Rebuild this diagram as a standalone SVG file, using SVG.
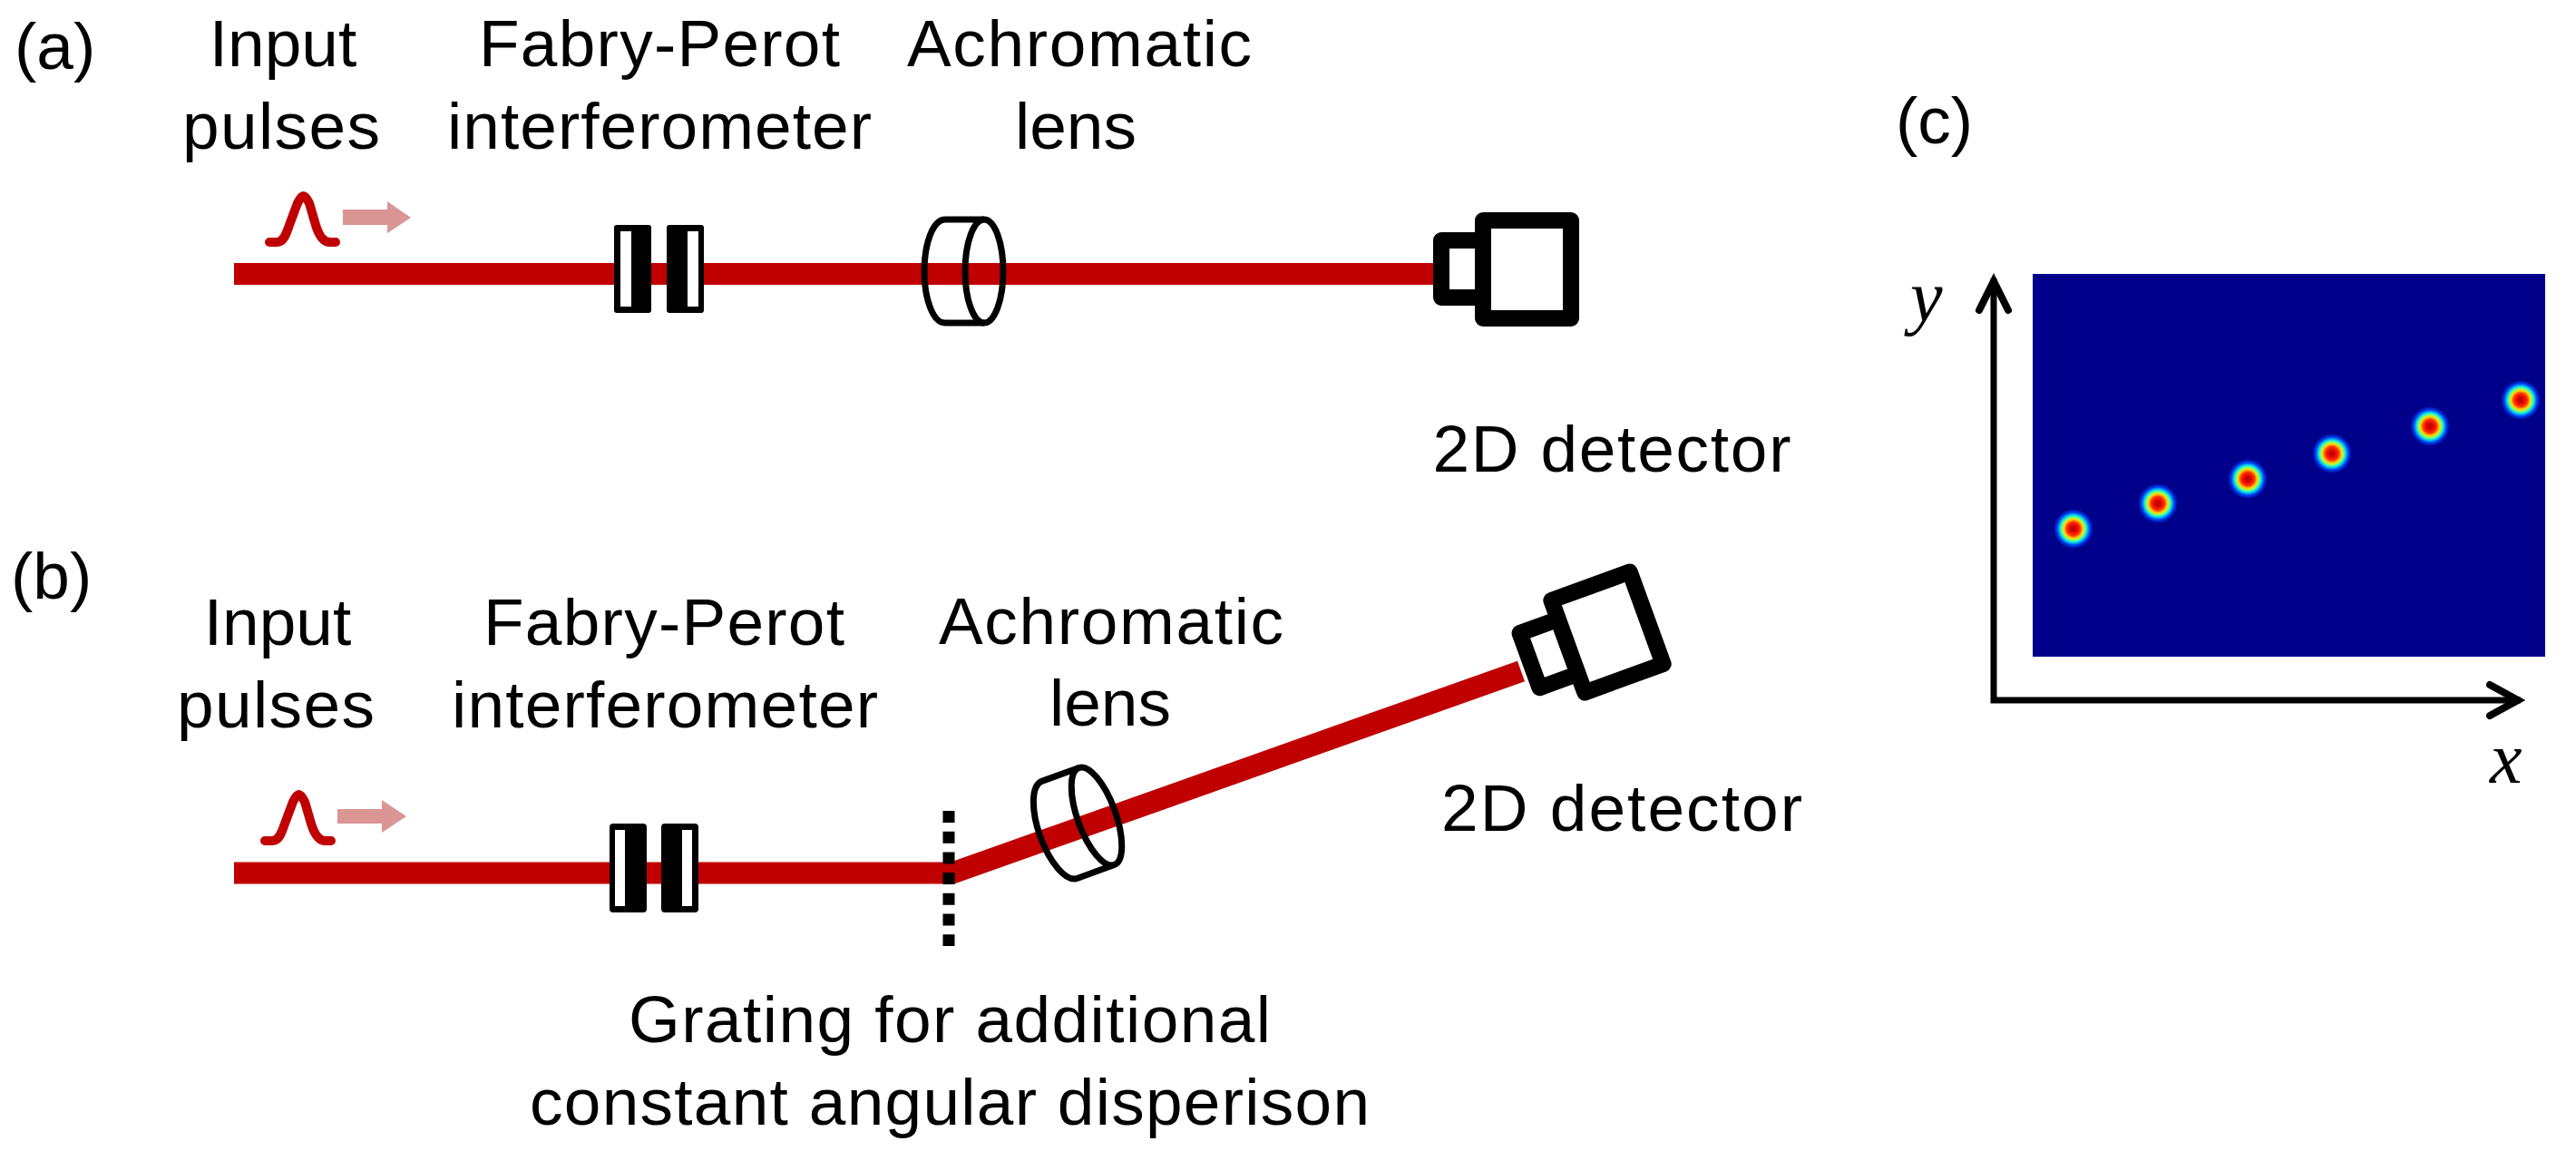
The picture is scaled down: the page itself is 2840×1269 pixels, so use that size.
<svg xmlns="http://www.w3.org/2000/svg" width="2840" height="1269" viewBox="0 0 2840 1269">
<style>
text{font-family:"Liberation Sans",Arial,sans-serif;font-size:73px;fill:#000}
.m{text-anchor:middle}
.i{font-family:"Liberation Serif","Times New Roman",serif;font-style:italic;font-size:80px}
.beam{stroke:#c00000;stroke-width:24;fill:none}
.lens{fill:none;stroke:#000;stroke-width:7;stroke-linejoin:round}
.det{fill:#fff;stroke:#000;stroke-linejoin:round;stroke-width:18}
.blk{fill:#000}.wht{fill:#fff}
.pulse{fill:none;stroke:#c00000;stroke-width:10;stroke-linecap:round;stroke-linejoin:round}
.arr{fill:#d99694}
.ax{fill:none;stroke:#000;stroke-width:7}
.axh{fill:none;stroke:#000;stroke-width:8;stroke-linecap:round;stroke-linejoin:miter}
</style>
<defs>
<radialGradient id="jet">
<stop offset="0" stop-color="#b00000"/>
<stop offset="0.14" stop-color="#d80000"/>
<stop offset="0.34" stop-color="#ff3000"/>
<stop offset="0.47" stop-color="#ffd000"/>
<stop offset="0.57" stop-color="#90ff60"/>
<stop offset="0.68" stop-color="#00e0f0"/>
<stop offset="0.82" stop-color="#0040f0"/>
<stop offset="1" stop-color="#00008b"/>
</radialGradient>
<path id="pulse-shape" class="pulse" d="M292 927H300C308 927 311 917 314 908L323 884Q327 876 329.500 876Q332 876 336 884L343 908C346 918 351 927 359 927H365"/>
</defs>
<g id="connectors">
<path class="beam" d="M258 302H1580"/>
<path class="beam" d="M258 962.500H1050L1677 740"/>
</g>
<g id="label-a"><text x="16" y="76">(a)</text></g>
<g id="pulse-a">
<use href="#pulse-shape" transform="translate(5 -660)"/>
<path class="arr" d="M378 231H427V222L453 240L427 257V248H378Z"/>
</g>
<g id="text-input-a"><text class="m" x="312" y="73">Input</text><text class="m" x="310" y="164" textLength="218" lengthAdjust="spacing">pulses</text></g>
<g id="fp-a">
<rect class="blk" x="677" y="248" width="41" height="97" rx="3"/><rect class="wht" x="684" y="255" width="12" height="83"/>
<rect class="blk" x="735" y="248" width="41" height="97" rx="3"/><rect class="wht" x="758" y="255" width="12" height="83"/>
</g>
<g id="text-fp-a"><text class="m" x="727" y="73" textLength="398" lengthAdjust="spacing">Fabry-Perot</text><text class="m" x="727" y="164" textLength="468" lengthAdjust="spacing">interferometer</text></g>
<g id="lens-a">
<ellipse class="lens" cx="1085" cy="299" rx="21" ry="57"/>
<path class="lens" d="M1085 242H1042C1028 242 1019 270 1019 299C1019 328 1028 356 1042 356H1085"/>
</g>
<g id="text-lens-a"><text class="m" x="1190" y="73" textLength="380" lengthAdjust="spacing">Achromatic</text><text class="m" x="1186" y="164">lens</text></g>
<g id="detector-a">
<rect class="det" x="1589" y="265" width="46" height="63"/>
<rect class="det" x="1635" y="243" width="97" height="108"/>
</g>
<g id="text-det-a"><text class="m" x="1777" y="520" textLength="395" lengthAdjust="spacing">2D detector</text></g>
<g id="label-b"><text x="12" y="660">(b)</text></g>
<g id="pulse-b">
<use href="#pulse-shape"/>
<path class="arr" d="M372 892H421V882L448 900L421 918V908H372Z"/>
</g>
<g id="text-input-b"><text class="m" x="306" y="711">Input</text><text class="m" x="304" y="802" textLength="218" lengthAdjust="spacing">pulses</text></g>
<g id="fp-b">
<rect class="blk" x="672" y="908" width="41" height="98" rx="4"/><rect class="wht" x="678" y="915" width="11" height="84"/>
<rect class="blk" x="729" y="908" width="41" height="98" rx="4"/><rect class="wht" x="752" y="915" width="11" height="84"/>
</g>
<g id="text-fp-b"><text class="m" x="732" y="711" textLength="398" lengthAdjust="spacing">Fabry-Perot</text><text class="m" x="733" y="802" textLength="470" lengthAdjust="spacing">interferometer</text></g>
<g id="grating"><path d="M1046 894V1043" stroke="#000" stroke-width="13" stroke-dasharray="13 9.700" fill="none"/></g>
<g id="lens-b" transform="translate(1209 900) rotate(-20)">
<ellipse class="lens" cx="0" cy="0" rx="21" ry="57"/>
<path class="lens" d="M0 -57H-43C-57 -57 -66 -29 -66 0C-66 29 -57 57 -43 57H0"/>
</g>
<g id="text-lens-b"><text class="m" x="1225" y="710" textLength="380" lengthAdjust="spacing">Achromatic</text><text class="m" x="1224" y="800">lens</text></g>
<g id="detector-b" transform="translate(1772 697) rotate(-20)">
<rect class="det" x="-91" y="-32" width="45" height="64"/>
<rect class="det" x="-46" y="-54" width="92" height="108"/>
</g>
<g id="text-det-b"><text class="m" x="1788" y="916" textLength="398" lengthAdjust="spacing">2D detector</text></g>
<g id="text-grating"><text class="m" x="1047" y="1149" textLength="708" lengthAdjust="spacing">Grating for additional</text><text class="m" x="1047" y="1240" textLength="926" lengthAdjust="spacing">constant angular disperison</text></g>
<g id="label-c"><text x="2090" y="158">(c)</text></g>
<g id="plot">
<rect x="2241" y="302" width="565" height="422" fill="#00008b"/>
<g fill="url(#jet)">
<circle cx="2286" cy="583" r="22"/><circle cx="2379" cy="555" r="22"/><circle cx="2478" cy="528" r="22"/><circle cx="2571" cy="500" r="22"/><circle cx="2679" cy="470" r="22"/><circle cx="2779" cy="441" r="22"/>
</g>
<path class="ax" d="M2198 307V772H2779"/>
<path class="axh" d="M2182 342L2198 310L2214 342"/>
<path class="axh" d="M2745 755L2776 772L2745 789"/>
</g>
<g id="axis-labels"><text class="i" x="2106" y="354">y</text><text class="i" x="2745" y="863">x</text></g>
</svg>
